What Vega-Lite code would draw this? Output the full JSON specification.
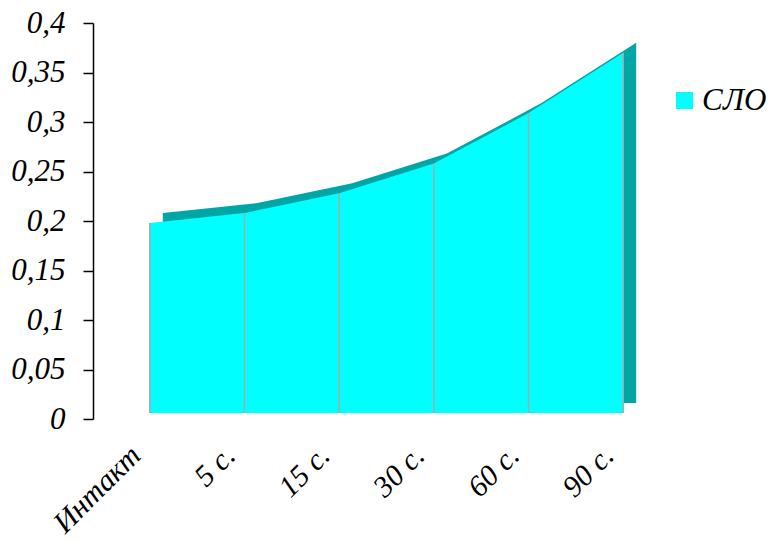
{
  "$schema": "https://vega.github.io/schema/vega-lite/v6.json",
  "width": 587,
  "height": 396,
  "autosize": {"type": "none"},
  "padding": {"left": 93, "top": 23, "right": 88, "bottom": 122},
  "config": {
    "locale": {"number": {"decimal": ",", "thousands": " ", "grouping": [3], "currency": ["", ""]}},
    "view": {"stroke": null},
    "font": "Liberation Serif"
  },
  "data": {
    "values": [
      {"cat": "Интакт", "value": 0.198, "series": "СЛО"},
      {"cat": "5 с.", "value": 0.208, "series": "СЛО"},
      {"cat": "15 с.", "value": 0.228, "series": "СЛО"},
      {"cat": "30 с.", "value": 0.258, "series": "СЛО"},
      {"cat": "60 с.", "value": 0.309, "series": "СЛО"},
      {"cat": "90 с.", "value": 0.37, "series": "СЛО"}
    ]
  },
  "encoding": {
    "x": {
      "field": "cat", "type": "ordinal", "sort": null,
      "scale": {"type": "point", "padding": 0.6},
      "axis": {"title": null, "domain": false, "ticks": false, "labelAngle": -45, "labelFontSize": 30, "labelFontStyle": "italic", "labelColor": "#000000", "labelPadding": 21, "labelOffset": -25, "labelFont": "Liberation Serif"}
    },
    "y": {
      "field": "value", "type": "quantitative",
      "scale": {"domain": [0, 0.4], "nice": false},
      "axis": {"title": null, "grid": false, "values": [0, 0.05, 0.1, 0.15, 0.2, 0.25, 0.3, 0.35, 0.4], "format": "~g", "domainColor": "#000000", "domainWidth": 1.5, "tickColor": "#000000", "tickWidth": 1.5, "tickSize": 10, "labelPadding": 18, "labelFontSize": 31, "labelFontStyle": "italic", "labelColor": "#000000", "labelFont": "Liberation Serif"}
    }
  },
  "layer": [
    {"mark": {"type": "area", "color": "#00A6A6", "xOffset": 13, "yOffset": -10, "y2Offset": -16}, "encoding": {"y2": {"datum": 0}}},
    {
      "mark": {"type": "area", "y2Offset": -6, "opacity": 1},
      "encoding": {
        "y2": {"datum": 0},
        "color": {
          "field": "series", "type": "nominal",
          "scale": {"range": ["#00FFFF"]},
          "legend": {"title": null, "orient": "none", "legendX": 576, "legendY": 62, "padding": 0, "symbolType": "square", "symbolSize": 289, "symbolStrokeWidth": 0, "symbolOpacity": 1, "labelFontSize": 31, "labelFontStyle": "italic", "labelColor": "#000000", "labelOffset": 2, "labelFont": "Liberation Serif"}
        }
      }
    },
    {"mark": {"type": "rule", "color": "#A8A8A8", "strokeWidth": 1.5, "y2Offset": -6}, "encoding": {"y2": {"datum": 0}}}
  ]
}
